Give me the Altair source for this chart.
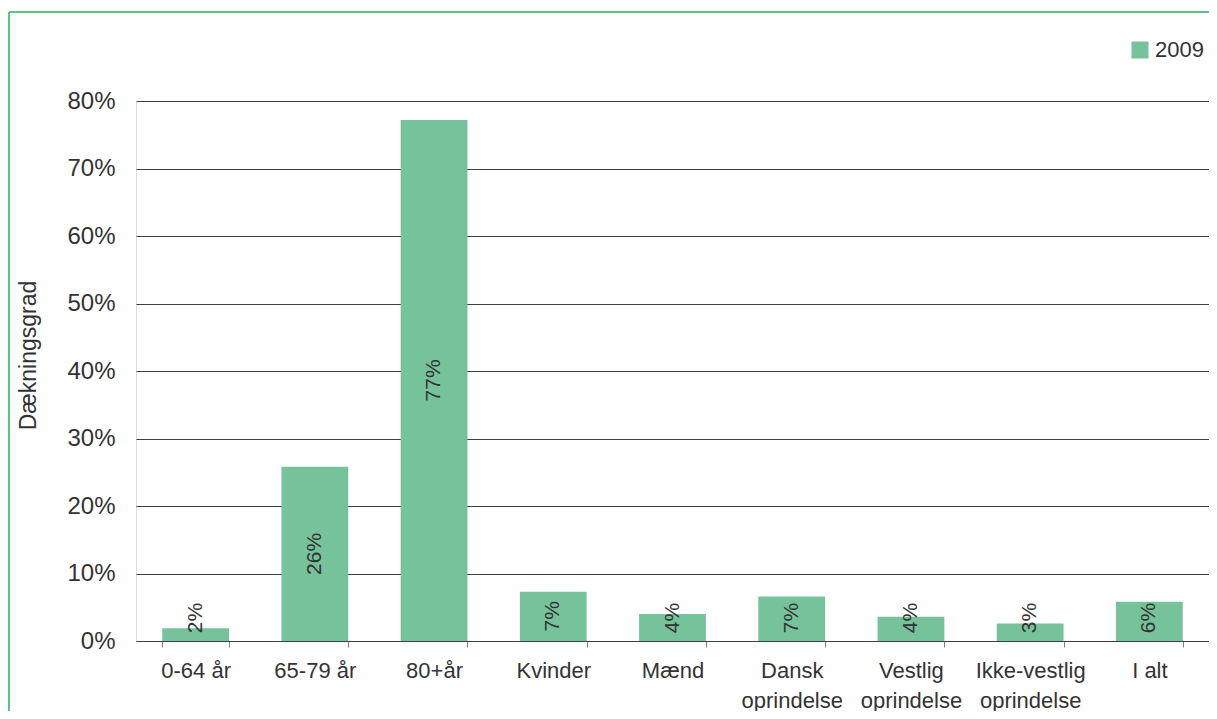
import altair as alt
import pandas as pd

categories = ["0-64 år", "65-79 år", "80+år", "Kvinder", "Mænd",
              "Dansk|oprindelse", "Vestlig|oprindelse", "Ikke-vestlig|oprindelse", "I alt"]
values = [0.019, 0.258, 0.772, 0.073, 0.040, 0.066, 0.036, 0.026, 0.058]
series = ["2009"] * len(categories)
y_ticks = [0, 0.1, 0.2, 0.3, 0.4, 0.5, 0.6, 0.7, 0.8]

BAR = "#76c29a"
TXT = "#333333"
FONT = "Liberation Sans"
W, H = 1073, 540

df = pd.DataFrame({"category": categories, "value": values, "series": series})

base = alt.Chart(df)

x_enc = alt.X(
    "category:N", sort=categories,
    scale=alt.Scale(paddingInner=0.44, paddingOuter=0.22),
    axis=alt.Axis(title=None, labelExpr="split(datum.label, '|')", labelAngle=0,
                  tickBand="extent", tickSize=6, tickColor="#808080",
                  domainColor="#404040", labelFontSize=22, labelColor=TXT,
                  labelPadding=13, labelLineHeight=30, labelBaseline="top",
                  labelFont=FONT),
)

bars = base.mark_bar().encode(
    x=x_enc,
    y=alt.Y("value:Q", scale=alt.Scale(domain=[0, 0.8], nice=False),
            axis=alt.Axis(values=y_ticks, format=".0%", title="Dækningsgrad",
                          domain=False, ticks=False, labelPadding=21,
                          labelFontSize=24, labelColor=TXT, labelFont=FONT,
                          gridColor="#404040", gridWidth=1,
                          titleFontSize=23, titleFontWeight="normal", titleColor=TXT,
                          titleFont=FONT, titleAngle=270, titleX=-108, titleY=254,
                          titleAlign="center", titleBaseline="middle")),
    color=alt.Color("series:N", scale=alt.Scale(range=[BAR]),
                    legend=alt.Legend(title=None, orient="none", legendX=993, legendY=-62,
                                      symbolType="square", symbolSize=289,
                                      symbolStrokeWidth=0, labelFontSize=22,
                                      labelColor=TXT, labelFont=FONT, labelOffset=4,
                                      padding=0)),
)

texts = base.transform_calculate(
    label_y="max(datum.value / 2, 0.034)"
).mark_text(angle=270, align="center", baseline="middle", fontSize=21,
            color=TXT, font=FONT).encode(
    x=alt.X("category:N", sort=categories),
    y=alt.Y("label_y:Q"),
    text=alt.Text("value:Q", format=".0%"),
)

frame_df = pd.DataFrame({"a": [0]})
top_rule = alt.Chart(frame_df).mark_rule(color="#22b05a", strokeWidth=1.5).encode(
    x=alt.value(-127), x2=alt.value(W), y=alt.value(-89))
left_rule = alt.Chart(frame_df).mark_rule(color="#22b05a", strokeWidth=1.5).encode(
    x=alt.value(-127), y=alt.value(-89), y2=alt.value(H + 70))

chart = alt.layer(bars, texts, top_rule, left_rule).properties(
    width=W, height=H,
    padding={"left": 128, "top": 93, "right": 0, "bottom": 70},
    autosize="none",
).configure_view(stroke=None).configure(font=FONT)

chart.save("out.html", embed_options={"renderer": "svg", "actions": False})
